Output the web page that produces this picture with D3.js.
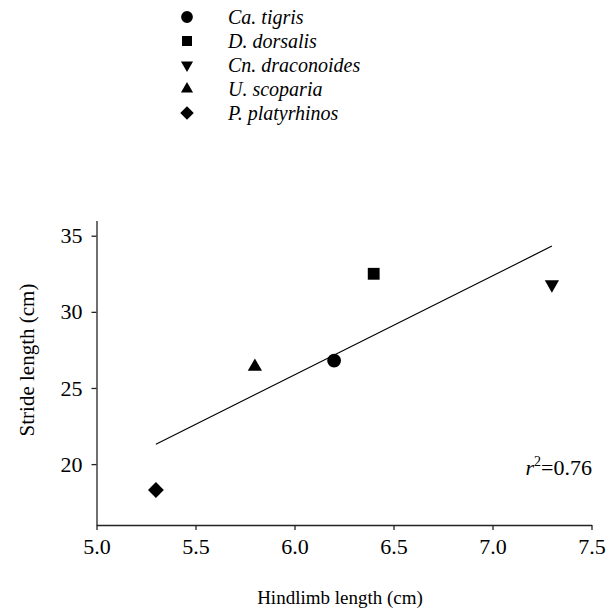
<!DOCTYPE html>
<html>
<head>
<meta charset="utf-8">
<script src="https://cdn.jsdelivr.net/npm/d3@7"></script>
<style>
  body { margin: 0; background: #fff; }
</style>
</head>
<body>
<svg id="chart" width="614" height="611"></svg>
<script>
const species = ["Ca. tigris", "D. dorsalis", "Cn. draconoides", "U. scoparia", "P. platyrhinos"];
const markers = ["circle", "square", "down", "up", "diamond"];
const hindlimb = [6.2, 6.4, 7.3, 5.8, 5.3];
const stride = [26.8, 32.5, 31.8, 26.4, 18.3];
const xTicks = [5.0, 5.5, 6.0, 6.5, 7.0, 7.5];
const yTicks = [20, 25, 30, 35];
const rSquared = "0.76";

const serif = "'Liberation Serif', 'Times New Roman', Times, serif";

let svg = d3.select("#chart");

let x = d3.scaleLinear().domain([5.0, 7.5]).range([96.5, 591.5]);
let y = d3.scaleLinear().domain([16, 36]).range([525, 220.5]);

// marker shapes
function symbolPath(kind) {
    if (kind === "circle") return d3.symbol().type(d3.symbolCircle).size(150)();
    if (kind === "square") return d3.symbol().type(d3.symbolSquare).size(140)();
    if (kind === "diamond") return d3.symbol().type(d3.symbolSquare).size(125)();
    return d3.symbol().type(d3.symbolTriangle).size(88)();
}
function symbolRotate(kind) {
    if (kind === "down") return " rotate(180)";
    if (kind === "diamond") return " rotate(45)";
    return "";
}

// axes
let xAxis = svg.append("g")
    .attr("transform", "translate(0,525)")
    .call(d3.axisBottom(x).tickValues(xTicks).tickFormat(d3.format(".1f")).tickSizeInner(5).tickSizeOuter(0).tickPadding(8));

let yAxis = svg.append("g")
    .attr("transform", "translate(96.5,0)")
    .call(d3.axisLeft(y).tickValues(yTicks).tickSizeInner(5).tickSizeOuter(0).tickPadding(9));

[xAxis, yAxis].forEach(function (a) {
    a.attr("font-family", null).attr("font-size", null);
    a.selectAll("path, line").attr("stroke", "#222").attr("stroke-width", 1.3);
    a.selectAll("text")
        .style("font-family", serif)
        .style("font-size", "22px")
        .attr("fill", "#000");
});

// axis titles
svg.append("text")
    .attr("x", 340).attr("y", 604)
    .attr("text-anchor", "middle")
    .style("font-family", serif)
    .style("font-size", "19px")
    .text("Hindlimb length (cm)");

svg.append("text")
    .attr("transform", "translate(34,360) rotate(-90)")
    .attr("text-anchor", "middle")
    .style("font-family", serif)
    .style("font-size", "21px")
    .text("Stride length (cm)");

// least squares line over the data range
let mx = d3.mean(hindlimb), my = d3.mean(stride);
let sxy = d3.sum(hindlimb, (v, i) => (v - mx) * (stride[i] - my));
let sxx = d3.sum(hindlimb, v => (v - mx) * (v - mx));
let slope = sxy / sxx, icpt = my - slope * mx;
let xr = d3.extent(hindlimb);

svg.append("line")
    .attr("x1", x(xr[0])).attr("y1", y(icpt + slope * xr[0]))
    .attr("x2", x(xr[1])).attr("y2", y(icpt + slope * xr[1]))
    .attr("stroke", "#000").attr("stroke-width", 1.2);

// points
svg.append("g").selectAll("path")
    .data(hindlimb)
    .enter().append("path")
    .attr("d", (d, i) => symbolPath(markers[i]))
    .attr("transform", (d, i) => "translate(" + x(d) + "," + y(stride[i]) + ")" + symbolRotate(markers[i]))
    .attr("fill", "#000");

// r squared
let rt = svg.append("text")
    .attr("x", 592).attr("y", 475)
    .attr("text-anchor", "end")
    .style("font-family", serif)
    .style("font-size", "22px");
rt.append("tspan").style("font-style", "italic").text("r");
rt.append("tspan").attr("dy", -9).style("font-size", "14px").text("2");
rt.append("tspan").attr("dy", 9).text("=" + rSquared);

// legend
let legend = svg.append("g").selectAll("g")
    .data(species)
    .enter().append("g")
    .attr("transform", (d, i) => "translate(187," + (17 + i * 24) + ")");

legend.append("path")
    .attr("d", (d, i) => symbolPath(markers[i]))
    .attr("transform", (d, i) => "scale(0.85)" + symbolRotate(markers[i]))
    .attr("fill", "#000");

legend.append("text")
    .attr("x", 41).attr("y", 7)
    .style("font-family", serif)
    .style("font-size", "20px")
    .style("font-style", "italic")
    .text(d => d);
</script>
</body>
</html>
